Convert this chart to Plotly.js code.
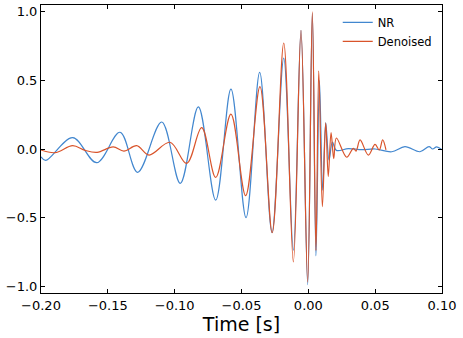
<!DOCTYPE html>
<html>
<head>
<meta charset="utf-8">
<script src="https://cdn.plot.ly/plotly-3.0.1.min.js"></script>
<style>
  html, body { margin: 0; padding: 0; background: #fff; }
  #chart { width: 463px; height: 338px; }
</style>
</head>
<body>
<div id="chart"></div>
<script>
// NR waveform (extrema and a few in-between points)
const nrTime = [-0.2, -0.1965, -0.1763, -0.1583, -0.1409, -0.1277, -0.1097, -0.0958, -0.0823,
  -0.0693, -0.0579, -0.0466, -0.0364, -0.0272, -0.0184, -0.0112, -0.0055, -0.0005, 0.003,
  0.0057, 0.0083, 0.0107, 0.013, 0.0155, 0.018, 0.021, 0.03, 0.04, 0.05, 0.0624, 0.0723,
  0.0835, 0.0903, 0.093, 0.096, 0.1];
const nrStrain = [-0.057, -0.083, 0.083, -0.10, 0.122, -0.17, 0.197, -0.25, 0.307,
  -0.373, 0.436, -0.50, 0.558, -0.61, 0.663, -0.738, 0.865, -0.99, 0.99,
  -0.78, 0.5, -0.3, 0.19, -0.08, 0.05, -0.01, 0.003, -0.005, 0.0, -0.02, 0.017,
  -0.02, 0.017, 0.0, 0.015, -0.005];

// Denoised waveform
const dnTime = [-0.2, -0.1895, -0.1763, -0.167, -0.158, -0.146, -0.138, -0.1284, -0.1192,
  -0.1035, -0.091, -0.0798, -0.0693, -0.0579, -0.0469, -0.0362, -0.027, -0.0184, -0.0112,
  -0.0055, -0.0005, 0.003, 0.0057, 0.0078, 0.0105, 0.013, 0.0149, 0.017, 0.019, 0.021,
  0.0287, 0.0337, 0.0357, 0.0387, 0.0449, 0.0499, 0.0531, 0.0556, 0.0581];
const dnStrain = [-0.007, -0.027, 0.024, -0.01, -0.024, 0.015, -0.015, 0.024, -0.044,
  0.049, -0.105, 0.156, -0.207, 0.254, -0.34, 0.455, -0.61, 0.773, -0.824,
  0.865, -0.97, 1.0, -0.74, 0.57, -0.42, 0.19, -0.2, 0.12, -0.07, 0.08,
  -0.06, 0.005, -0.015, 0.066, -0.044, 0.034, -0.007, 0.066, -0.007];

const xTicks = [-0.20, -0.15, -0.10, -0.05, 0.00, 0.05, 0.10];
const yTicks = [-1.0, -0.5, 0.0, 0.5, 1.0];

const font = 'DejaVu Sans, sans-serif';

const traces = [
  {
    x: nrTime, y: nrStrain, name: 'NR', type: 'scatter', mode: 'lines',
    line: {color: '#4287cf', width: 1.2, shape: 'spline', smoothing: 1}
  },
  {
    x: dnTime, y: dnStrain, name: 'Denoised', type: 'scatter', mode: 'lines',
    line: {color: '#d9542b', width: 1.2, shape: 'spline', smoothing: 1}
  }
];

const axisStyle = {
  showgrid: false, zeroline: false,
  showline: true, linecolor: '#000', linewidth: 1, mirror: 'ticks',
  ticks: 'inside', ticklen: 4, tickcolor: '#000', tickwidth: 1,
  tickfont: {family: font, size: 13, color: '#000'}
};

const layout = {
  width: 463, height: 338,
  margin: {l: 41, r: 21, t: 5, b: 45},
  paper_bgcolor: '#fff', plot_bgcolor: '#fff',
  font: {family: font, color: '#000'},
  showlegend: true,
  legend: {
    x: 0.74, y: 0.99, xanchor: 'left', yanchor: 'top',
    bgcolor: 'rgba(0,0,0,0)', borderwidth: 0,
    font: {family: font, size: 11.5, color: '#000'}
  },
  xaxis: Object.assign({}, axisStyle, {
    range: [-0.2, 0.1], tickvals: xTicks, tickformat: '.2f',
    title: {text: 'Time [s]', font: {family: font, size: 19, color: '#000'}, standoff: 4}
  }),
  yaxis: Object.assign({}, axisStyle, {
    range: [-1.05, 1.05], tickvals: yTicks, tickformat: '.1f'
  })
};

Plotly.newPlot('chart', traces, layout, {displayModeBar: false, staticPlot: true});
</script>
</body>
</html>
